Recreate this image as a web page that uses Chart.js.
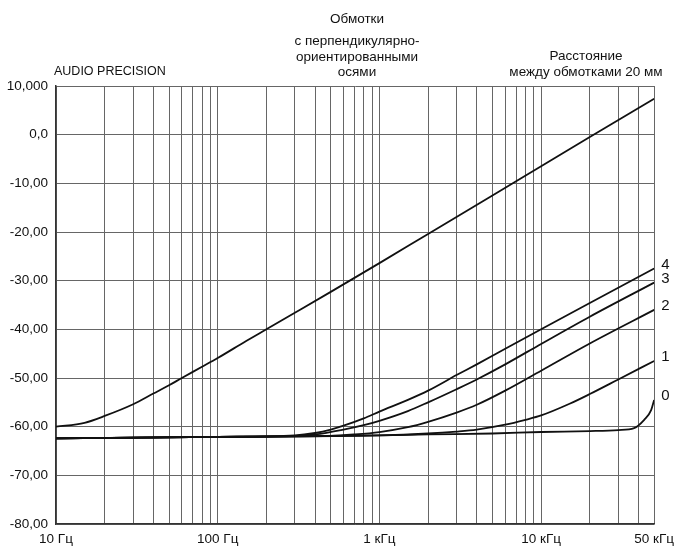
<!DOCTYPE html>
<html>
<head>
<meta charset="utf-8">
<script src="https://cdn.jsdelivr.net/npm/chart.js@4.4.1/dist/chart.umd.min.js"></script>
<style>
  html, body { margin: 0; padding: 0; background: #fff; }
  canvas { display: block; }
</style>
</head>
<body>
<canvas id="chart" width="681" height="547"></canvas>
<script>
// --- Данные (Гц / дБ) ---
const freqTop  = [10, 15, 20, 30, 40, 50, 60, 80, 100, 150, 200, 300, 500, 1000, 2000, 5000, 10000, 20000, 50000];
const levelTop = [-60.0, -59.2, -57.8, -55.4, -53.2, -51.5, -50.0, -47.7, -45.9, -42.4, -40.0, -36.6, -32.3, -26.4, -20.4, -12.5, -6.5, -0.5, 7.4];

const freq0  = [10, 100, 1000, 2000, 5000, 10000, 20000, 30000, 37600, 43400, 47900, 50000];
const level0 = [-62.4, -62.1, -61.8, -61.6, -61.4, -61.1, -60.9, -60.7, -60.3, -58.6, -56.6, -54.5];

const freq1  = [10, 100, 1000, 2000, 3000, 4000, 6000, 8000, 10000, 15000, 20000, 30000, 50000];
const level1 = [-62.4, -62.1, -61.8, -61.4, -61.0, -60.6, -59.6, -58.6, -57.7, -55.3, -53.3, -50.3, -46.5];

const freq2  = [10, 100, 500, 700, 1000, 1500, 2000, 3000, 4000, 6000, 10000, 20000, 50000];
const level2 = [-62.4, -62.1, -61.9, -61.6, -61.1, -60.1, -59.0, -57.1, -55.5, -52.6, -48.5, -42.9, -36.0];

const freq3  = [10, 100, 300, 400, 600, 800, 1000, 1500, 2000, 3000, 4000, 6000, 10000, 20000, 50000];
const level3 = [-62.4, -62.1, -61.9, -61.6, -60.6, -59.7, -58.8, -56.8, -55.0, -52.3, -50.3, -47.2, -43.0, -37.4, -30.4];

const freq4  = [10, 100, 300, 400, 500, 600, 800, 1000, 1500, 2000, 3000, 4000, 6000, 10000, 20000, 50000];
const level4 = [-62.4, -62.1, -61.8, -61.3, -60.6, -59.8, -58.3, -56.9, -54.5, -52.6, -49.4, -47.2, -44.0, -40.0, -34.6, -27.5];

const curveNames = ['0', '1', '2', '3', '4'];

// подписи осей
const yTickValues = [10, 0, -10, -20, -30, -40, -50, -60, -70, -80];
const yTickLabels = ['10,000', '0,0', '-10,00', '-20,00', '-30,00', '-40,00', '-50,00', '-60,00', '-70,00', '-80,00'];
const xLabelValues = [10, 100, 1000, 10000, 50000];
const xLabelTexts  = ['10 Гц', '100 Гц', '1 кГц', '10 кГц', '50 кГц'];

const titleLines = ['Обмотки', 'с перпендикулярно-', 'ориентированными', 'осями'];
const leftNote = 'AUDIO PRECISION';
const rightNote = ['Расстояние', 'между обмотками 20 мм'];

// --- Сетка по частоте: 10..90, 100..900, ... , 10k..50k ---
const xGrid = [];
for (let dec = 10; dec <= 10000; dec *= 10) {
  for (let m = 1; m <= 9; m++) {
    const v = m * dec;
    if (v <= 50000) xGrid.push(v);
  }
}

const FONT = '"Liberation Sans", Arial, sans-serif';
const INK = '#111';

const toPoints = (f, l) => f.map((v, i) => ({ x: v, y: l[i] }));
const lineStyle = {
  borderColor: INK,
  borderWidth: 1.8,
  pointRadius: 0,
  fill: false,
  cubicInterpolationMode: 'monotone'
};

const curves = [
  { f: freq0, l: level0 },
  { f: freq1, l: level1 },
  { f: freq2, l: level2 },
  { f: freq3, l: level3 },
  { f: freq4, l: level4 }
];

const datasets = [{ label: 'top', data: toPoints(freqTop, levelTop), ...lineStyle }]
  .concat(curves.map((c, i) => ({ label: curveNames[i], data: toPoints(c.f, c.l), ...lineStyle })));

// Подписи над графиком и номера кривых справа
const annotate = {
  id: 'annotate',
  afterDraw(chart) {
    const ctx = chart.ctx;
    const ys = chart.scales.y;
    const area = chart.chartArea;
    ctx.save();
    ctx.fillStyle = INK;
    ctx.textBaseline = 'middle';
    ctx.font = '13.5px ' + FONT;

    ctx.textAlign = 'center';
    const titleY = [19, 41, 57, 72];
    titleLines.forEach((t, i) => ctx.fillText(t, 357, titleY[i]));

    ctx.textAlign = 'center';
    ctx.fillText(rightNote[0], 586, 56);
    ctx.fillText(rightNote[1], 586, 72);

    ctx.font = '12.5px ' + FONT;
    ctx.textAlign = 'left';
    ctx.fillText(leftNote, 54, 72);

    // номера кривых
    ctx.font = '15px ' + FONT;
    ctx.textAlign = 'left';
    curves.forEach((c, i) => {
      const last = c.l[c.l.length - 1];
      ctx.fillText(curveNames[i], area.right + 7, ys.getPixelForValue(last) - 4);
    });
    ctx.restore();
  }
};

new Chart(document.getElementById('chart'), {
  type: 'line',
  data: { datasets },
  options: {
    responsive: false,
    animation: false,
    layout: { padding: { top: 86, right: 21, left: 0, bottom: 0 } },
    plugins: {
      legend: { display: false },
      tooltip: { enabled: false }
    },
    scales: {
      x: {
        type: 'logarithmic',
        min: 10,
        max: 50000,
        afterBuildTicks: (scale) => { scale.ticks = xGrid.map(v => ({ value: v })); },
        afterFit: (scale) => { scale.height = 23; },
        grid: { color: '#666', lineWidth: 1, drawTicks: false },
        border: { display: true, color: '#333', width: 1.5 },
        ticks: {
          autoSkip: false,
          maxRotation: 0,
          padding: 7,
          color: INK,
          font: { family: FONT, size: 13.5 },
          callback: (v) => {
            const k = xLabelValues.indexOf(v);
            return k >= 0 ? xLabelTexts[k] : '';
          }
        }
      },
      y: {
        min: -80,
        max: 10,
        afterBuildTicks: (scale) => { scale.ticks = yTickValues.map(v => ({ value: v })); },
        afterFit: (scale) => { scale.width = 56; },
        grid: { color: '#666', lineWidth: 1, drawTicks: false },
        border: { display: true, color: '#333', width: 1.5 },
        ticks: {
          padding: 8,
          color: INK,
          font: { family: FONT, size: 13.5 },
          callback: (v) => {
            const k = yTickValues.indexOf(v);
            return k >= 0 ? yTickLabels[k] : '';
          }
        }
      }
    }
  },
  plugins: [annotate]
});
</script>
</body>
</html>
